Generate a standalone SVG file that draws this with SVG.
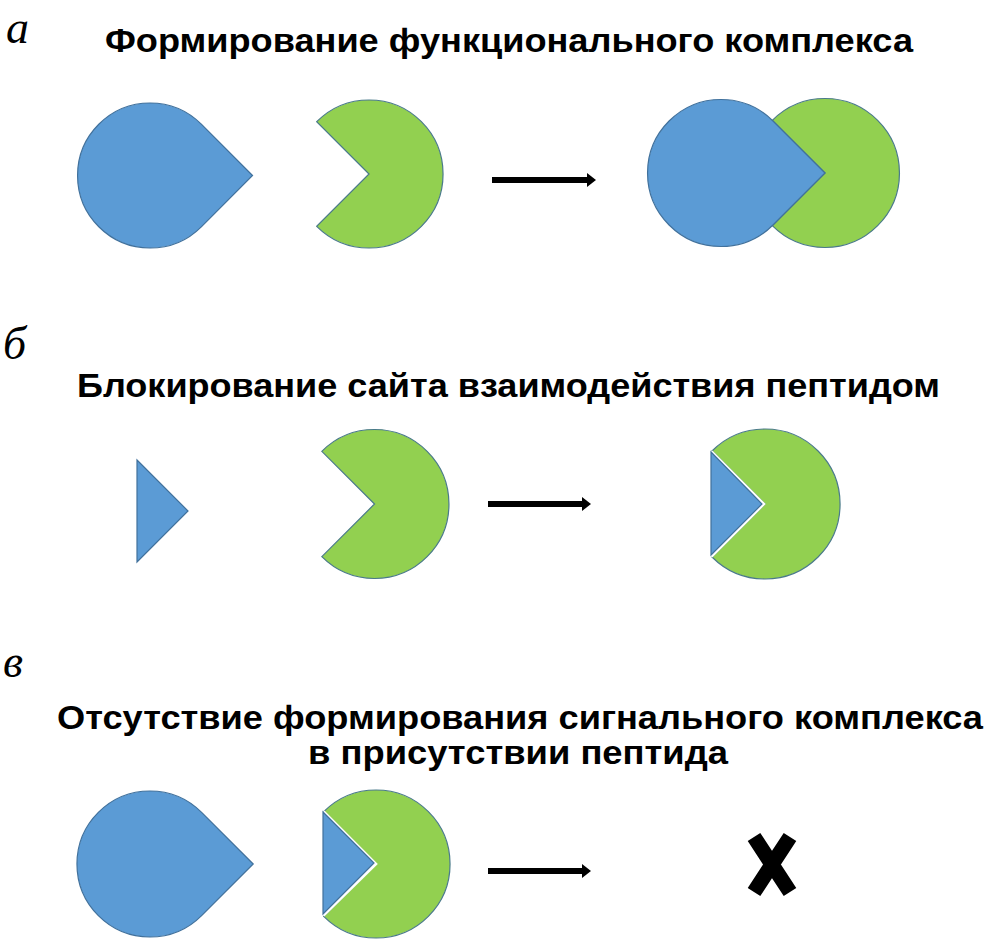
<svg xmlns="http://www.w3.org/2000/svg" width="992" height="944" viewBox="0 0 992 944">
<style>
.blue{fill:#5B9BD5;stroke:#41719C;stroke-width:1.2}
.green{fill:#92D050;stroke:#4A7A8A;stroke-width:1.2}
.title{font-family:"Liberation Sans",Arial,sans-serif;font-weight:bold;font-size:33px;fill:#000}
.lbl{font-family:"Liberation Serif","DejaVu Serif",serif;font-style:italic;font-size:46px;fill:#000}
.conn{stroke:#000;stroke-width:6;fill:none}
</style>
<defs>
<marker id="ah" markerUnits="userSpaceOnUse" markerWidth="10" markerHeight="14" refX="0" refY="7" orient="auto">
<path d="M0,0 L9,7 L0,14 Z" fill="#000"/>
</marker>
</defs>
<rect width="992" height="944" fill="#fff"/>

<g id="labels">
<text class="lbl" x="6" y="43">а</text>
<text class="lbl" x="3" y="359">б</text>
<text class="lbl" x="3" y="677">в</text>
</g>

<g id="titles">
<text class="title" x="105" y="52" textLength="808" lengthAdjust="spacingAndGlyphs">Формирование функционального комплекса</text>
<text class="title" x="77" y="397" textLength="863" lengthAdjust="spacingAndGlyphs">Блокирование сайта взаимодействия пептидом</text>
<text class="title" x="57" y="729" textLength="926" lengthAdjust="spacingAndGlyphs">Отсутствие формирования сигнального комплекса</text>
<text class="title" x="308" y="764" textLength="420" lengthAdjust="spacingAndGlyphs">в присутствии пептида</text>
</g>

<!-- Panel a -->
<g id="a-protein1">
<path class="blue" d="M252.5,175.5 L201.3,124.2 A72.5,72.5 0 1 0 201.3,226.8 Z"/>
</g>
<g id="a-protein2">
<path class="green" d="M369,174 L316.7,121.7 A74,74 0 1 1 316.7,226.3 Z"/>
</g>
<g id="a-complex">
<path class="green" d="M825,173 L772.3,120.3 A74.5,74.5 0 1 1 772.3,225.7 Z"/>
<path class="blue" d="M825,173 L773,121 A73.5,73.5 0 1 0 773,225 Z"/>
</g>

<!-- Panel b -->
<g id="b-peptide">
<path class="blue" d="M137,460 L188,511 L137,562 Z"/>
</g>
<g id="b-protein2">
<path class="green" d="M374.5,504 L321.8,451.3 A74.5,74.5 0 1 1 321.8,556.7 Z"/>
</g>
<g id="b-complex">
<path class="green" d="M765,504 L712,451 A75,75 0 1 1 712,557 Z"/>
<path d="M711,452 L763,504 L711,556" fill="none" stroke="#fff" stroke-width="4"/>
<path class="blue" d="M711,452 L762,504 L711,555 Z"/>
</g>

<!-- Panel c -->
<g id="c-protein1">
<path class="blue" d="M253.2,864 L201.6,812.4 A73,73 0 1 0 201.6,915.6 Z"/>
</g>
<g id="c-blocked">
<path class="green" d="M376,864 L323.7,811.7 A74,74 0 1 1 323.7,916.3 Z"/>
<path d="M323,812 L375,864 L323,915" fill="none" stroke="#fff" stroke-width="4"/>
<path class="blue" d="M323,812 L374,863 L323,914 Z"/>
</g>
<g id="c-none">
<path d="M754,837 L790,892 M790,837 L754,892" stroke="#000" stroke-width="15" fill="none"/>
</g>

<g id="connectors">
<line class="conn" x1="492" y1="180" x2="587" y2="180" marker-end="url(#ah)"/>
<line class="conn" x1="488" y1="504" x2="582" y2="504" marker-end="url(#ah)"/>
<line class="conn" x1="488" y1="871" x2="582" y2="871" marker-end="url(#ah)"/>
</g>
</svg>
